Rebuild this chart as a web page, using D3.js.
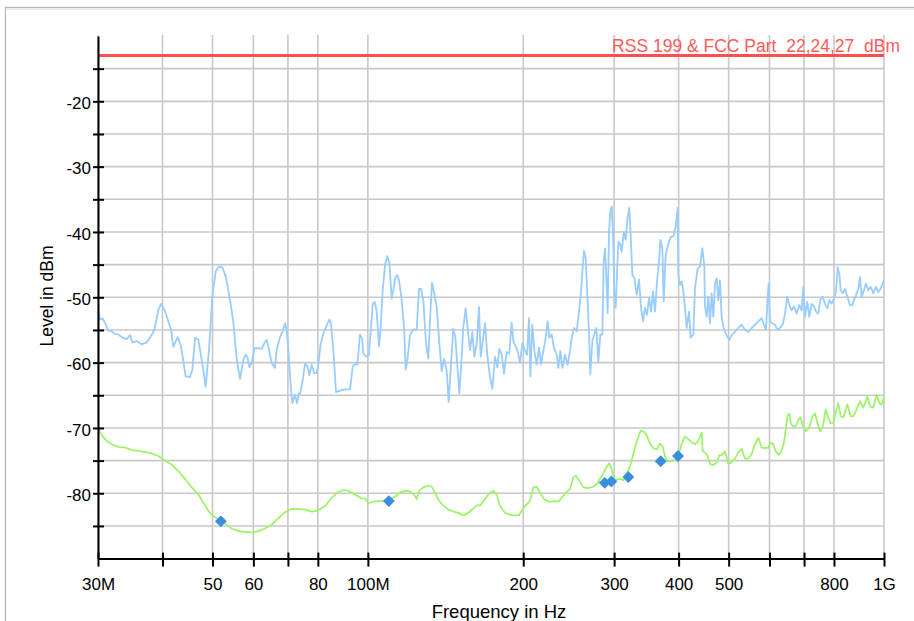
<!DOCTYPE html>
<html>
<head>
<meta charset="utf-8">
<script src="https://cdn.jsdelivr.net/npm/d3@7/dist/d3.min.js"></script>
<style>
  html, body { margin: 0; padding: 0; background: #fff; }
  svg { display: block; font-family: "Liberation Sans", Arial, sans-serif; }
</style>
</head>
<body>
<svg id="chart" width="914" height="621"></svg>
<script>
// ---------- data (frequency in MHz, level in dBm) ----------
const limitLevel = -13;
const limitLabel = "RSS 199 & FCC Part  22,24,27  dBm";

const peakFreq = [30.0,30.27,30.59,30.95,31.42,31.89,32.36,32.85,33.34,34.09,34.61,34.97,35.65,36.45,37.27,37.83,38.57,39.27,39.74,40.45,41.06,41.55,41.98,42.80,43.45,44.36,45.23,45.70,46.25,46.94,47.50,48.00,48.50,49.23,49.97,50.72,51.48,52.25,53.03,54.07,54.88,55.70,56.53,57.38,57.98,58.50,58.93,59.55,60.26,61.35,62.27,63.01,63.67,64.34,65.11,66.08,66.58,67.57,68.38,69.10,69.61,70.13,70.97,71.39,72.25,72.90,73.55,
73.88,74.77,75.55,76.34,77.02,77.83,78.64,79.58,80.18,81.02,81.99,83.22,84.21,84.84,85.73,86.75,88.32,90.32,92.35,93.46,94.43,95.42,96.56,97.43,98.00,99.18,100.37,101.27,102.17,103.09,104.01,105.10,105.89,106.84,107.95,109.08,110.06,111.21,112.04,113.04,114.06,115.08,116.28,117.50,118.38,119.26,120.69,122.49,124.33,125.63,126.76,128.09,129.62,130.97,131.95,133.13,134.33,135.94,137.56,139.00,140.45,142.13,143.41,144.91,146.42,147.73,149.06,150.40,151.75,153.10,154.71,156.09,157.73,159.38,160.80,162.49,164.19,165.41,166.89,168.64,170.40,172.44,174.25,176.33,178.17,179.77,181.65,183.55,185.75,187.97,
189.94,191.36,193.36,195.09,197.13,199.20,201.58,203.39,205.21,206.43,208.28,210.15,212.35,214.58,216.50,218.76,221.05,223.03,224.69,227.05,229.42,232.17,233.90,236.00,238.11,240.96,243.85,246.40,248.24,250.83,253.83,256.49,258.79,260.33,262.28,264.23,266.21,268.19,269.79,272.21,274.65,277.11,279.59,282.10,284.62,286.33,288.03,289.75,291.48,293.22,294.97,296.76,298.53,300.31,302.11,303.91,305.72,308.00,310.30,313.09,315.89,318.72,321.10,323.02,325.42,328.34,331.78,335.25,338.25,341.29,344.34,347.43,350.53,353.67,356.84,360.03,363.25,366.50,368.69,371.99,374.21,377.56,382.08,386.65,390.69,394.78,398.32,399.50,402.49,405.49,408.51,411.56,414.62,418.96,422.08,427.12,430.31,435.46,440.02,444.63,448.61,
449.95,453.31,456.68,460.10,463.53,466.99,470.48,473.99,477.52,481.09,484.68,488.28,491.93,495.61,501.52,506.78,514.36,522.07,529.91,537.84,545.90,554.10,562.39,570.81,579.37,585.44,590.68,594.20,597.77,601.31,608.51,614.88,621.31,628.75,636.28,642.94,649.66,655.48,662.34,669.27,677.28,685.37,692.55,697.71,702.92,710.27,716.63,724.13,731.72,738.27,745.99,753.81,760.56,768.52,776.57,783.53,791.72,800.02,807.19,813.23,819.28,824.18,831.57,840.27,849.05,859.22,868.21,874.68,882.53,891.77,898.42,905.12,914.59,922.79,932.44,942.22,953.46,964.87,974.97,985.17,996.97,1000];

const peakLevel = [-52.1,-53.4,-53.2,-53.9,-55.1,-55.2,-55.6,-55.7,-56.1,-56.4,-55.8,-56.9,-56.7,-57.2,-56.9,-56.2,-55.0,-51.9,-51.0,-52.1,-53.7,-54.9,-57.6,-56.1,-57.5,-62.1,-62.2,-61.1,-56.2,-56.5,-59.0,-61.1,-63.7,-58.0,-49.8,-46.0,-45.3,-45.4,-46.8,-50.4,-53.9,-59.5,-62.5,-59.5,-58.8,-59.3,-60.7,-60.1,-57.8,-57.8,-57.9,-57.0,-56.5,-58.0,-60.1,-60.8,-58.0,-56.1,-55.2,-54.0,-55.0,-58.0,-64.1,-66.2,-64.9,-66.2,-64.7,
-64.8,-62.7,-60.2,-60.5,-61.9,-60.3,-61.6,-61.6,-60.2,-57.1,-55.6,-54.3,-53.4,-54.0,-58.1,-64.5,-64.3,-64.1,-64.1,-60.6,-60.2,-60.3,-55.7,-56.3,-58.6,-59.1,-58.9,-55.3,-51.0,-50.7,-52.2,-57.5,-54.5,-48.9,-45.1,-43.7,-44.8,-50.2,-48.9,-46.9,-46.6,-47.7,-50.4,-54.5,-61.1,-59.6,-55.8,-54.9,-55.0,-48.7,-48.7,-50.5,-57.1,-59.4,-53.5,-47.8,-49.2,-51.5,-57.1,-61.3,-59.4,-61.2,-66.0,-60.3,-54.8,-56.1,-60.4,-64.7,-59.9,-54.5,-51.7,-54.8,-58.1,-55.3,-59.1,-57.1,-51.5,-59.1,-56.8,-54.0,-58.9,-62.2,-64.0,-59.1,-60.7,-57.9,-58.7,-61.7,-58.4,-58.6,
-53.9,-56.7,-57.5,-58.2,-60.0,-57.0,-58.2,-58.8,-53.2,-62.1,-54.2,-58.2,-60.3,-57.7,-60.3,-58.2,-56.2,-53.7,-56.2,-55.7,-57.7,-58.8,-60.8,-58.2,-60.8,-58.8,-60.3,-58.2,-56.2,-54.7,-55.2,-52.2,-49.1,-46.1,-42.9,-44.0,-49.6,-55.7,-61.8,-56.7,-55.7,-54.7,-59.8,-55.7,-55.7,-44.5,-42.5,-46.8,-52.4,-40.0,-36.9,-36.1,-40.5,-49.6,-51.6,-46.1,-41.5,-41.8,-43.0,-40.0,-41.2,-37.7,-36.3,-40.5,-46.6,-47.1,-49.6,-47.3,-51.6,-53.7,-51.6,-52.7,-50.1,-52.2,-49.1,-52.2,-47.6,-44.5,-41.2,-42.5,-50.6,-43.5,-41.8,-40.7,-40.7,-39.2,-36.3,-46.6,-48.1,-47.6,-49.1,-51.6,-54.7,-52.2,-56.2,-55.7,-48.6,-45.6,-45.3,-42.5,-45.1,
-51.4,-53.0,-49.9,-54.0,-49.4,-53.0,-47.9,-47.1,-50.4,-47.4,-53.0,-54.5,-55.3,-55.8,-56.5,-55.8,-55.3,-54.7,-54.2,-55.0,-55.3,-54.7,-54.2,-53.7,-53.2,-54.2,-55.0,-50.9,-47.9,-53.7,-54.0,-54.2,-55.0,-54.7,-54.2,-52.5,-49.9,-51.2,-52.0,-51.4,-52.5,-51.2,-52.0,-48.4,-53.0,-50.7,-53.0,-51.0,-51.4,-52.2,-52.5,-50.2,-49.9,-51.0,-51.7,-50.4,-51.0,-50.2,-49.2,-45.4,-46.4,-48.9,-49.4,-48.7,-49.9,-51.2,-51.2,-50.4,-49.7,-48.7,-46.9,-49.9,-48.9,-47.9,-48.9,-48.4,-49.4,-48.4,-49.2,-48.7,-47.6,-47.5];

const avgFreq = [30.0,30.50,31.18,31.89,32.85,33.84,34.86,35.92,37.00,38.12,39.27,40.45,41.67,42.93,44.23,45.57,46.94,48.00,49.08,50.19,51.94,53.27,54.47,56.11,57.81,59.55,61.35,63.20,65.11,67.07,69.10,71.18,73.33,75.55,77.83,79.58,82.60,85.09,87.67,89.65,91.67,94.43,97.28,98.74,100.22,102.48,104.79,107.15,109.57,
112.87,115.42,118.03,120.69,122.86,124.33,125.82,128.09,130.97,132.94,134.93,136.95,140.04,143.19,146.42,149.72,153.10,156.56,160.09,162.97,164.92,167.39,171.17,175.03,177.65,180.31,184.38,188.54,192.79,196.55,199.50,203.09,206.13,209.21,212.35,215.54,219.41,224.69,229.42,233.90,238.46,242.76,246.40,250.09,253.08,256.87,261.50,267.39,273.42,278.34,283.78,289.34,293.65,296.76,299.87,303.46,308.92,312.61,317.30,323.02,326.88,331.78,337.75,342.82,346.91,352.10,357.38,362.72,368.15,372.56,376.45,380.39,387.80,393.61,399.50,405.49,411.56,
417.73,423.99,430.31,436.75,443.32,445.29,449.95,454.65,460.10,466.99,473.99,479.64,484.68,491.93,499.28,506.78,514.36,522.07,529.91,537.84,545.90,554.10,562.39,570.81,579.37,588.06,596.86,603.12,610.31,617.63,625.96,633.47,640.07,645.82,649.66,655.48,660.38,667.29,675.28,682.34,689.48,697.71,706.07,716.63,727.37,734.98,742.67,751.56,760.56,770.82,780.07,788.23,797.66,807.19,815.63,824.18,834.03,849.05,861.79,872.09,885.18,898.42,911.88,928.29,939.39,953.46,967.74,979.34,989.60,1000];

const avgLevel = [-70.1,-71.1,-72.0,-72.5,-72.9,-73.0,-73.4,-73.5,-73.7,-73.9,-74.3,-75.0,-75.6,-76.6,-77.8,-79.1,-80.2,-81.4,-82.7,-83.5,-84.3,-84.8,-85.4,-85.8,-85.9,-86.0,-85.8,-85.4,-84.8,-83.8,-82.9,-82.4,-82.4,-82.5,-82.8,-82.7,-82.0,-80.7,-79.8,-79.5,-79.6,-80.2,-80.8,-80.8,-81.5,-81.3,-81.2,-81.2,-81.1,
-80.5,-79.9,-79.6,-79.7,-80.2,-80.9,-79.6,-79.1,-78.8,-79.0,-79.9,-81.0,-81.9,-82.5,-82.8,-83.0,-83.4,-83.0,-82.3,-81.8,-81.9,-81.2,-80.2,-79.6,-80.2,-81.9,-83.0,-83.3,-83.4,-83.3,-82.4,-81.7,-81.2,-79.1,-79.0,-79.9,-80.9,-81.3,-81.2,-81.3,-80.5,-79.8,-79.4,-77.6,-77.3,-78.1,-79.1,-79.2,-79.0,-78.5,-77.4,-76.1,-75.4,-76.4,-77.8,-77.9,-77.8,-78.0,-77.1,-75.6,-73.9,-72.1,-70.4,-70.6,-71.1,-72.4,-73.1,-73.3,-72.4,-72.8,-74.4,-75.1,-75.1,-74.9,-74.4,-72.4,-71.3,
-71.7,-72.2,-72.5,-72.0,-70.7,-73.5,-73.8,-74.2,-75.5,-75.7,-75.3,-74.2,-74.2,-73.6,-75.5,-75.3,-74.7,-73.7,-73.2,-74.7,-74.7,-74.0,-72.5,-71.5,-73.0,-73.1,-73.0,-72.2,-72.5,-73.7,-74.1,-73.5,-72.2,-70.0,-68.2,-67.8,-69.4,-69.8,-69.7,-68.7,-68.4,-69.9,-70.5,-69.9,-68.2,-67.8,-69.2,-70.5,-69.9,-67.2,-68.4,-69.3,-69.2,-67.4,-66.2,-68.2,-68.4,-66.4,-68.2,-68.2,-67.2,-65.9,-66.9,-65.2,-66.7,-66.9,-64.9,-66.2,-66.4,-65.2];

const markerFreq  = [51.9, 109.8, 287.7, 296.3, 319.6, 369.3, 399.0];
const markerLevel = [-84.3, -81.2, -78.4, -78.2, -77.5, -75.1, -74.3];

const xGridValues = [30,40,50,60,70,80,100,200,300,400,500,600,700,800,1000];
const xTickLabels = {30:"30M",50:"50",60:"60",80:"80",100:"100M",200:"200",300:"300",400:"400",500:"500",800:"800",1000:"1G"};
const yGridValues = [-15,-20,-25,-30,-35,-40,-45,-50,-55,-60,-65,-70,-75,-80,-85];
const yTickLabels = [-20,-30,-40,-50,-60,-70,-80];

const xTitle = "Frequency in Hz";
const yTitle = "Level in dBm";

// ---------- drawing ----------
const svg = d3.select("#chart");
const L = 98, R = 884, T = 36, B = 558.6;
const x = d3.scaleLog().domain([30, 1000]).range([L, R]);
const y = d3.scaleLinear().domain([-90, -10]).range([B, T]);

// outer frame
svg.append("rect").attr("x", 5.5).attr("y", 7.5).attr("width", 1000).attr("height", 1000)
  .attr("fill", "#fff").attr("stroke", "#b4b4b4").attr("stroke-width", 1.2);
svg.append("line").attr("x1", 6.5).attr("x2", 914).attr("y1", 9).attr("y2", 9)
  .attr("stroke", "#ececec").attr("stroke-width", 2);

// grid
const grid = svg.append("g").attr("stroke", "#c8c8c8").attr("stroke-width", 1.6);
grid.selectAll("line.h").data(yGridValues).join("line").attr("class", "h")
  .attr("x1", L).attr("x2", R).attr("y1", d => y(d)).attr("y2", d => y(d));
grid.selectAll("line.v").data(xGridValues).join("line").attr("class", "v")
  .attr("x1", d => x(d)).attr("x2", d => x(d)).attr("y1", T - 1).attr("y2", B);

// limit line
svg.append("line").attr("x1", L).attr("x2", R)
  .attr("y1", y(limitLevel)).attr("y2", y(limitLevel))
  .attr("stroke", "#ff4f4f").attr("stroke-width", 3);

// traces
const line = d3.line().x(d => x(d[0])).y(d => y(d[1]));
svg.append("path").datum(peakFreq.map((f, i) => [f, peakLevel[i]]))
  .attr("d", line).attr("fill", "none").attr("stroke", "#99ccff").attr("stroke-width", 1.8)
  .attr("stroke-linejoin", "round");
svg.append("path").datum(avgFreq.map((f, i) => [f, avgLevel[i]]))
  .attr("d", line).attr("fill", "none").attr("stroke", "#99f566").attr("stroke-width", 1.7)
  .attr("stroke-linejoin", "round");

// markers
const diamond = d3.symbol().type(d3.symbolDiamond2).size(90);
svg.append("g").selectAll("path").data(markerFreq.map((f, i) => [f, markerLevel[i]])).join("path")
  .attr("d", diamond).attr("transform", d => `translate(${x(d[0])},${y(d[1])})`)
  .attr("fill", "#3a8fdc");

// axes
const xAxis = d3.axisBottom(x).tickValues(xGridValues)
  .tickFormat(d => xTickLabels[d] || "").tickSizeInner(8).tickSizeOuter(0).tickPadding(11);
const gx = svg.append("g").attr("transform", `translate(0,${B})`).call(xAxis);
gx.select(".domain").attr("stroke", "#000").attr("stroke-width", 2);
gx.selectAll(".tick line").attr("y1", -6).attr("stroke", "#000").attr("stroke-width", 2);
gx.selectAll(".tick text").attr("font-size", 17).attr("font-family", "Liberation Sans, Arial, sans-serif")
  .attr("fill", "#000");

const yAxis = d3.axisLeft(y).tickValues(yGridValues)
  .tickFormat(d => yTickLabels.includes(d) ? String(d) : "").tickSizeInner(5).tickSizeOuter(0).tickPadding(2);
const gy = svg.append("g").attr("transform", `translate(${L},0)`).call(yAxis);
gy.select(".domain").attr("stroke", "#000").attr("stroke-width", 2);
gy.selectAll(".tick line").attr("x1", 6).attr("stroke", "#000").attr("stroke-width", 2);
gy.selectAll(".tick text").attr("font-size", 17).attr("font-family", "Liberation Sans, Arial, sans-serif")
  .attr("fill", "#000").attr("dy", "0.42em");

// limit label
svg.append("text").attr("x", 900).attr("y", 52).attr("text-anchor", "end")
  .attr("font-size", 17.5).attr("fill", "#ff5a5a").style("white-space", "pre")
  .text(limitLabel);

// axis titles
svg.append("text").attr("x", 499).attr("y", 618).attr("text-anchor", "middle")
  .attr("font-size", 18.5).attr("fill", "#000").text(xTitle);
svg.append("text").attr("transform", "translate(53,296) rotate(-90)").attr("text-anchor", "middle")
  .attr("font-size", 17.5).attr("fill", "#000").text(yTitle);
</script>
</body>
</html>
